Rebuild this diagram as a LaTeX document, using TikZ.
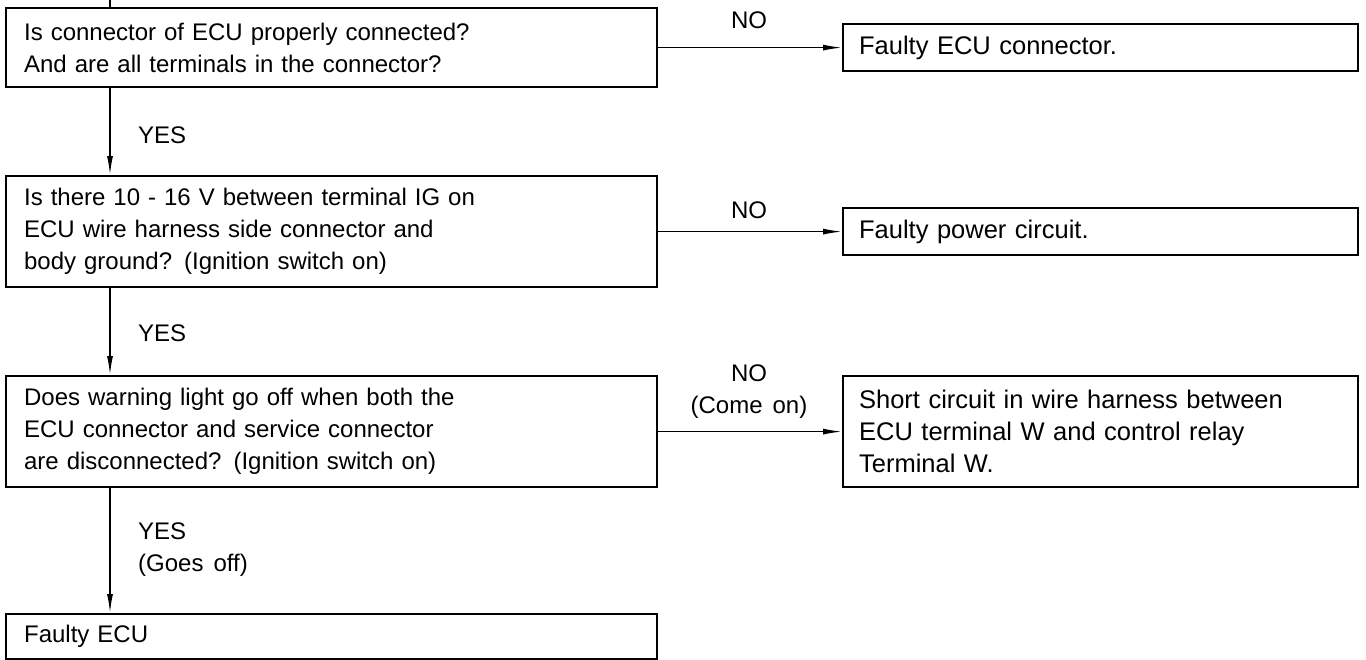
\documentclass[tikz,border=0pt]{standalone}
\usepackage{fontspec}
\setmainfont{Liberation Sans}[WordSpace=1.5]
\usetikzlibrary{arrows.meta}

\begin{document}
\begin{tikzpicture}[
            x=1pt, y=-1pt,
            box/.style={draw, line width=2.2pt, anchor=north west, align=left,
                        inner xsep=18pt, inner ysep=0pt},
            qbox/.style={box, text width=615pt},
            rbox/.style={box, inner xsep=16pt, text width=483pt,
                         font=\fontsize{25.5}{32}\selectfont},
            flow/.style={-{Latex[length=19pt, width=6pt]}, line width=1.4pt},
            lbl/.style={align=left, inner sep=0pt}
        ]
            \useasboundingbox (0,0) rectangle (1366,659);
            \fontsize{24}{32}\selectfont

            % Questions
            \node[qbox, minimum height=79pt] (q1) at (5,7)
                {Is connector of ECU properly connected?\\And are all terminals in the connector?};
            \node[qbox, minimum height=111pt] (q2) at (5,175)
                {Is there 10 - 16 V between terminal IG on\\ECU wire harness side connector and\\body ground? (Ignition switch on)};
            \node[qbox, minimum height=111pt] (q3) at (5,375)
                {Does warning light go off when both the\\ECU connector and service connector\\are disconnected? (Ignition switch on)};
            \node[qbox, minimum height=45pt] (ecu) at (5,613) {Faulty ECU};

            % Results
            \node[rbox, minimum height=47pt] (r1) at (842,23) {Faulty ECU connector.};
            \node[rbox, minimum height=47pt] (r2) at (842,207) {Faulty power circuit.};
            \node[rbox, minimum height=111pt] (r3) at (842,375)
                {Short circuit in wire harness between\\ECU terminal W and control relay\\Terminal W.};

            % YES path
            \coordinate (spine) at (110,0);
            \draw[line width=1.4pt] (spine) -- (spine |- q1.north);
            \draw[flow] (spine |- q1.south) -- (spine |- q2.north);
            \draw[flow] (spine |- q2.south) -- (spine |- q3.north);
            \draw[flow] (spine |- q3.south) -- (spine |- ecu.north);
            \node[lbl, anchor=west] (yes1) at (138,135) {YES};
            \node[lbl, anchor=west] (yes2) at (138,333) {YES};
            \node[lbl, anchor=west] (yes3) at (138,550) {YES\\(Goes off)};

            % NO branches
            \draw[flow] (q1.east) -- (r1.west);
            \draw[flow] (q2.east) -- (r2.west);
            \draw[flow] (q3.east) -- (r3.west);
            \node[lbl] (no1) at (749,20) {NO};
            \node[lbl] (no2) at (749,210) {NO};
            \node[lbl, align=center] (no3) at (749,392) {NO\\(Come on)};
        \end{tikzpicture}
\end{document}
